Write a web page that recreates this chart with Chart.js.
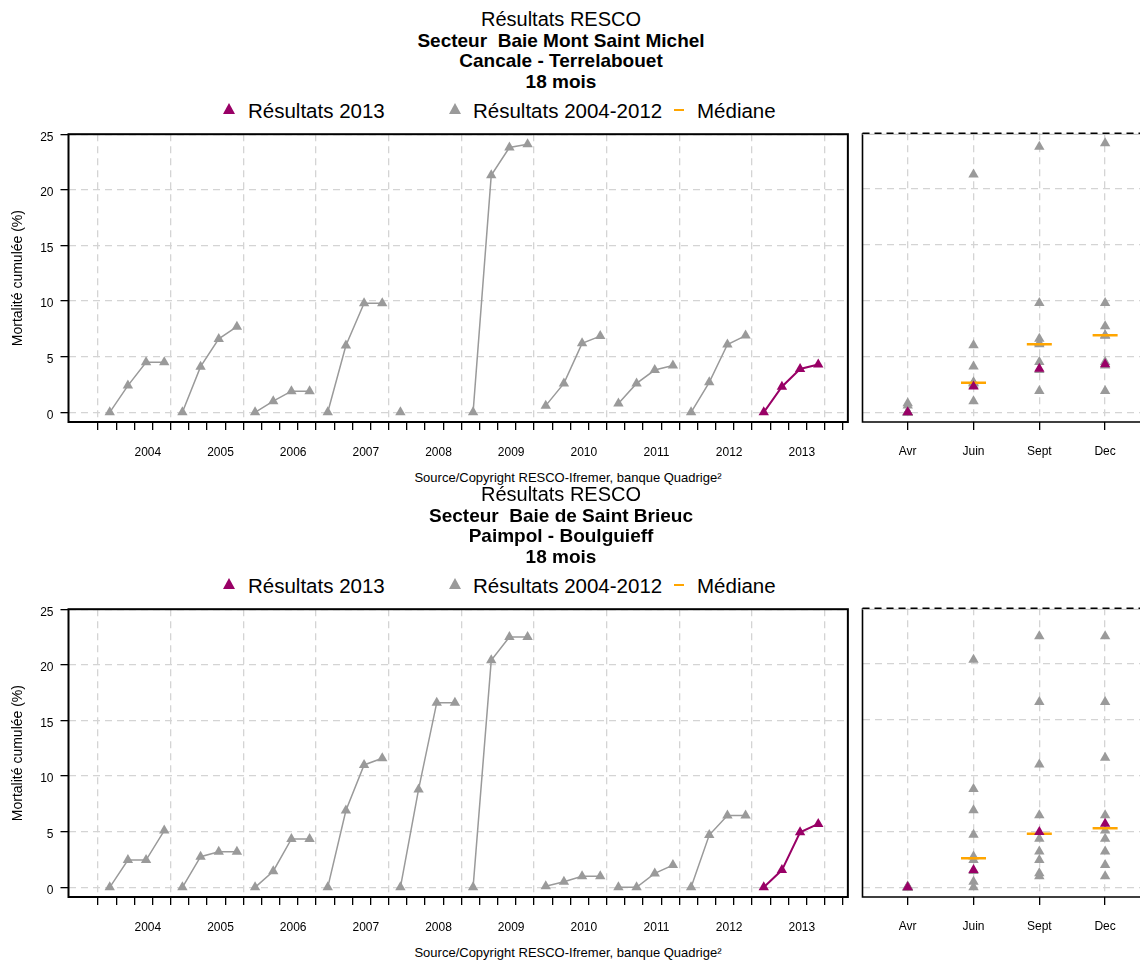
<!DOCTYPE html>
<html>
<head>
<meta charset="utf-8">
<script src="https://cdn.jsdelivr.net/npm/chart.js@4/dist/chart.umd.min.js"></script>
<style>
  html, body { margin: 0; padding: 0; background: #fff; }
  body { width: 1140px; height: 960px; position: relative; overflow: hidden;
         font-family: "Liberation Sans", Arial, sans-serif; color: #000; }
  canvas { position: absolute; }
  .txt { position: absolute; white-space: pre; }
  .center { width: 700px; text-align: center; }
</style>
</head>
<body>
<script>
// Mortalité cumulée (%) des huîtres de 18 mois, campagnes Avr / Juin / Sept / Dec
const years = ['2004', '2005', '2006', '2007', '2008', '2009', '2010', '2011', '2012', '2013'];
const months = ['Avr', 'Juin', 'Sept', 'Dec'];
const yTickValues = [0, 5, 10, 15, 20, 25];

// Cancale - Terrelabouet : une ligne par année 2004 à 2012
const cancaleHistory = [
  [0, 2.4, 4.5, 4.5],
  [0, 4.1, 6.6, 7.7],
  [0, 1.0, 1.9, 1.9],
  [0, 6.0, 9.8, 9.8],
  [0, null, null, null],
  [0, 21.3, 23.8, 24.1],
  [0.6, 2.6, 6.2, 6.85],
  [0.8, 2.6, 3.8, 4.2],
  [0, 2.7, 6.1, 6.9]
];
const cancale2013 = [0, 2.3, 3.9, 4.3];
const cancaleMedian = [null, 2.65, 6.1, 6.9];

// Paimpol - Boulguieff : une ligne par année 2004 à 2012
const paimpolHistory = [
  [0, 2.45, 2.45, 5.1],
  [0, 2.75, 3.2, 3.2],
  [0, 1.45, 4.35, 4.35],
  [0, 6.9, 11.0, 11.6],
  [0, 8.8, 16.6, 16.6],
  [0, 20.4, 22.5, 22.5],
  [0.1, 0.5, 1.0, 1.0],
  [0, 0, 1.25, 2.0],
  [0, 4.7, 6.45, 6.45]
];
const paimpol2013 = [0, 1.55, 4.95, 5.7];
const paimpolMedian = [null, 2.6, 4.8, 5.3];

const GREY = '#9a9a9a';
const PURPLE = '#990066';
const ORANGE = '#FFA500';
const GRID = '#d4d4d4';
const FONT = '"Liberation Sans", Arial, sans-serif';

Chart.defaults.font.family = FONT;
Chart.defaults.color = '#000';

// box drawn around the plotting area
const framePlugin = {
  id: 'frame',
  afterDraw(chart, args, opts) {
    const { left, right, top, bottom } = chart.chartArea;
    const ctx = chart.ctx;
    ctx.save();
    ctx.strokeStyle = '#000';
    if (opts.full) {
      ctx.lineWidth = 2;
      ctx.strokeRect(left, top, right - left, bottom - top);
    } else {
      ctx.lineWidth = 1.6;
      ctx.beginPath();
      ctx.moveTo(left, top);
      ctx.lineTo(left, bottom);
      ctx.lineTo(right, bottom);
      ctx.stroke();
      ctx.strokeStyle = '#bdbdbd';
      ctx.lineWidth = 1;
      ctx.beginPath();
      ctx.moveTo(left, top + 1);
      ctx.lineTo(right, top + 1);
      ctx.stroke();
      ctx.strokeStyle = '#000';
      ctx.lineWidth = 1.4;
      ctx.setLineDash([7, 5]);
      ctx.beginPath();
      ctx.moveTo(left, top);
      ctx.lineTo(right, top);
      ctx.stroke();
    }
    ctx.restore();
  }
};

function addText(text, x, y, size, bold, centered) {
  const d = document.createElement('div');
  d.className = 'txt' + (centered ? ' center' : '');
  d.textContent = text;
  d.style.fontSize = size + 'px';
  d.style.lineHeight = size + 'px';
  d.style.fontWeight = bold ? 'bold' : 'normal';
  d.style.top = (y - size / 2) + 'px';
  d.style.left = (centered ? x - 350 : x) + 'px';
  document.body.appendChild(d);
  return d;
}

function addTriangle(cx, cy, color) {
  const ns = 'http://www.w3.org/2000/svg';
  const svg = document.createElementNS(ns, 'svg');
  svg.setAttribute('width', '14');
  svg.setAttribute('height', '13');
  svg.style.position = 'absolute';
  svg.style.left = (cx - 7) + 'px';
  svg.style.top = (cy - 7) + 'px';
  const p = document.createElementNS(ns, 'polygon');
  p.setAttribute('points', '7,1 13,12 1,12');
  p.setAttribute('fill', color);
  svg.appendChild(p);
  document.body.appendChild(svg);
}

function addDash(cx, cy, color) {
  const d = document.createElement('div');
  d.style.position = 'absolute';
  d.style.left = (cx - 5) + 'px';
  d.style.top = (cy - 1.25) + 'px';
  d.style.width = '10px';
  d.style.height = '2.5px';
  d.style.background = color;
  document.body.appendChild(d);
}

function makeCanvas(x, y, w, h) {
  const c = document.createElement('canvas');
  c.width = w; c.height = h;
  c.style.left = x + 'px'; c.style.top = y + 'px';
  c.style.width = w + 'px'; c.style.height = h + 'px';
  document.body.appendChild(c);
  return c;
}

const yScaleBase = {
  type: 'linear', min: -0.87, max: 25,
  afterBuildTicks: s => { s.ticks = yTickValues.map(v => ({ value: v })); },
  border: { display: false, dash: [7, 5] }
};

function drawSection(offY, titles, history, current, median) {
  // titles
  addText(titles[0], 561, offY + 19, 20, false, true);
  addText(titles[1], 561, offY + 40, 19, true, true);
  addText(titles[2], 561, offY + 60, 19, true, true);
  addText(titles[3], 561, offY + 81, 19, true, true);
  // legend
  addTriangle(229, offY + 109, PURPLE);
  addText('Résultats 2013', 248, offY + 111, 20.5, false, false);
  addTriangle(455, offY + 109, GREY);
  addText('Résultats 2004-2012', 473, offY + 111, 20.5, false, false);
  addDash(679, offY + 110, ORANGE);
  addText('Médiane', 697, offY + 111, 20.5, false, false);
  // source
  addText('Source/Copyright RESCO-Ifremer, banque Quadrige²', 568, offY + 477, 13, false, true);

  // ---- time series panel ----
  const quarterTicks = [];
  for (let i = 0; i <= 41; i++) quarterTicks.push(i - 0.64);

  const seriesSets = [];
  years.forEach((yr, k) => {
    const vals = k < history.length ? history[k] : current;
    const pts = [];
    vals.forEach((v, m) => { if (v !== null) pts.push({ x: 4 * k + m, y: v }); });
    const col = k < history.length ? GREY : PURPLE;
    seriesSets.push({
      label: yr, data: pts, showLine: true,
      borderColor: col, borderWidth: k < history.length ? 1.5 : 2,
      pointStyle: 'triangle', pointRadius: 6, pointBackgroundColor: col,
      pointBorderWidth: 0, pointHoverRadius: 6
    });
  });

  new Chart(makeCanvas(0, offY + 120, 858, 365), {
    type: 'scatter',
    data: { datasets: seriesSets },
    plugins: [framePlugin],
    options: {
      responsive: false, animation: false, devicePixelRatio: 1,
      layout: { autoPadding: false, padding: { top: 13.3, left: 0, right: 6.5, bottom: 0 } },
      plugins: { legend: { display: false }, tooltip: { enabled: false }, frame: { full: true } },
      scales: {
        x: {
          type: 'linear', min: -2.27, max: 40.63,
          afterBuildTicks: s => { s.ticks = quarterTicks.map(v => ({ value: v })); },
          afterFit: s => { s.height = 63; },
          ticks: {
            autoSkip: false, maxRotation: 0, minRotation: 0, labelOffset: 49.7, padding: 15,
            font: { size: 12 }, color: '#000',
            callback: (v, i) => (i % 4 === 0 && years[i / 4]) ? years[i / 4] : ''
          },
          grid: {
            color: c => (c.index % 4 === 0 ? GRID : 'rgba(0,0,0,0)'),
            lineWidth: 1.3, tickColor: '#000', tickWidth: 1.3, tickLength: 8
          },
          border: { display: false, dash: [7, 5] }
        },
        y: Object.assign({}, yScaleBase, {
          afterFit: s => { s.width = 68.5; },
          ticks: { font: { size: 12 }, color: '#000', padding: 7, labelOffset: 3 },
          grid: { color: GRID, lineWidth: 1.3, tickColor: '#000', tickWidth: 1.3, tickLength: 8 },
          title: { display: true, text: 'Mortalité cumulée (%)', font: { size: 14 }, color: '#000',
                   padding: { top: 10, bottom: 0 } }
        })
      }
    }
  });

  // ---- seasonal panel ----
  const greyPts = [];
  history.forEach(row => row.forEach((v, m) => { if (v !== null) greyPts.push({ x: m, y: v }); }));
  const currentPts = current.map((v, m) => ({ x: m, y: v }));
  const medianPts = [];
  median.forEach((v, m) => { if (v !== null) medianPts.push({ x: m, y: v }); });

  new Chart(makeCanvas(856, offY + 120, 284, 365), {
    type: 'scatter',
    data: {
      datasets: [
        { label: 'Résultats 2013', data: currentPts, pointStyle: 'triangle', pointRadius: 6,
          pointBackgroundColor: PURPLE, pointBorderWidth: 0 },
        { label: 'Médiane', data: medianPts, pointStyle: 'line', pointRadius: 12.5,
          pointBorderColor: ORANGE, pointBorderWidth: 2.5 },
        { label: 'Résultats 2004-2012', data: greyPts, pointStyle: 'triangle', pointRadius: 6,
          pointBackgroundColor: GREY, pointBorderWidth: 0 }
      ]
    },
    plugins: [framePlugin],
    options: {
      responsive: false, animation: false, devicePixelRatio: 1,
      layout: { autoPadding: false, padding: { top: 13.3, left: 0, right: 0, bottom: 0 } },
      plugins: { legend: { display: false }, tooltip: { enabled: false }, frame: { full: false } },
      scales: {
        x: {
          type: 'linear', min: -0.687, max: 3.53,
          afterBuildTicks: s => { s.ticks = months.map((m, i) => ({ value: i })); },
          afterFit: s => { s.height = 63; },
          ticks: {
            autoSkip: false, maxRotation: 0, minRotation: 0, padding: 14,
            font: { size: 12 }, color: '#000',
            callback: (v, i) => months[i]
          },
          grid: { color: GRID, lineWidth: 1.3, tickColor: '#000', tickWidth: 1.3, tickLength: 8 },
          border: { display: false, dash: [7, 5] }
        },
        y: Object.assign({}, yScaleBase, {
          afterFit: s => { s.width = 6.5; },
          ticks: { display: false },
          grid: { color: GRID, lineWidth: 1.3, drawTicks: false }
        })
      }
    }
  });
}

drawSection(0, ['Résultats RESCO', 'Secteur  Baie Mont Saint Michel', 'Cancale - Terrelabouet', '18 mois'],
            cancaleHistory, cancale2013, cancaleMedian);
drawSection(475, ['Résultats RESCO', 'Secteur  Baie de Saint Brieuc', 'Paimpol - Boulguieff', '18 mois'],
            paimpolHistory, paimpol2013, paimpolMedian);
</script>
</body>
</html>
